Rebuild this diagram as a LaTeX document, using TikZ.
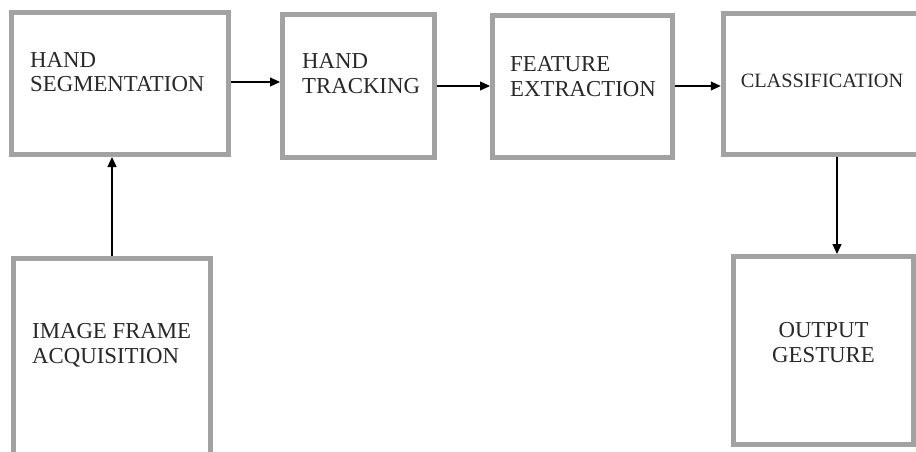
\documentclass[tikz,border=0pt]{standalone}
\usepackage{fontspec}
\setmainfont{Liberation Serif}
\usetikzlibrary{arrows.meta}
\definecolor{boxgray}{RGB}{162,162,162}
\definecolor{txtgray}{RGB}{40,40,40}
\tikzset{
  blockbox/.style={draw=boxgray, line width=5pt, fill=white, inner sep=0pt},
  lbl/.style={text=txtgray, font=\fontsize{22.8}{24.5}\selectfont, inner sep=0pt, align=left},
  clbl/.style={text=txtgray, font=\fontsize{22.8}{24.5}\selectfont, inner sep=0pt, align=center},
  arr/.style={draw=black, line width=1.2pt, -{Triangle[length=10pt,width=9pt]}}
}
\begin{document}
\begin{tikzpicture}[x=1pt,y=-1pt]
\useasboundingbox (0,0) rectangle (916,452);
\clip (0,0) rectangle (916,452);
\fill[white] (0,0) rectangle (916,452);
% boxes
\node[blockbox, minimum width=217pt, minimum height=142pt] (b1) at (120,83.5) {};
\node[blockbox, minimum width=152pt, minimum height=142.5pt] (b2) at (358.5,86) {};
\node[blockbox, minimum width=180pt, minimum height=142pt] (b3) at (582.5,86.5) {};
\node[blockbox, minimum width=197.5pt, minimum height=141pt] (b4) at (822,84) {};
\node[blockbox, minimum width=197pt, minimum height=211pt] (b5) at (112,364) {};
\node[blockbox, minimum width=180pt, minimum height=188pt] (b6) at (823.5,350.5) {};
% labels (base anchor = baseline of the last line)
\node[lbl, anchor=base west] (t1) at (30,92) {HAND\\SEGMENTATION};
\node[lbl, anchor=base west] (t2) at (302,93) {HAND\\TRACKING};
\node[lbl, anchor=base west] (t3) at (510,96) {FEATURE\\EXTRACTION};
\node[text=txtgray, font=\fontsize{20.3}{24}\selectfont, inner sep=0pt, anchor=base] (t4) at (822,88) {CLASSIFICATION};
\node[lbl, anchor=base west] (t5) at (32,363) {IMAGE FRAME\\ACQUISITION};
\node[clbl, anchor=base] (t6) at (823.5,362) {OUTPUT\\GESTURE};
% connectors
\draw[arr] ([yshift=1.5pt]b1.east) -- ([yshift=4pt]b2.west);
\draw[arr] (b2.east) -- (b2.east -| b3.west);
\draw[arr] ([yshift=0.5pt]b3.east) -- ([yshift=-2pt]b4.west);
\draw[arr] (b5.north) -- (b5.north |- b1.south);
\draw[arr] ([xshift=15pt]b4.south) -- ([xshift=13.5pt]b6.north);
\end{tikzpicture}
\end{document}
